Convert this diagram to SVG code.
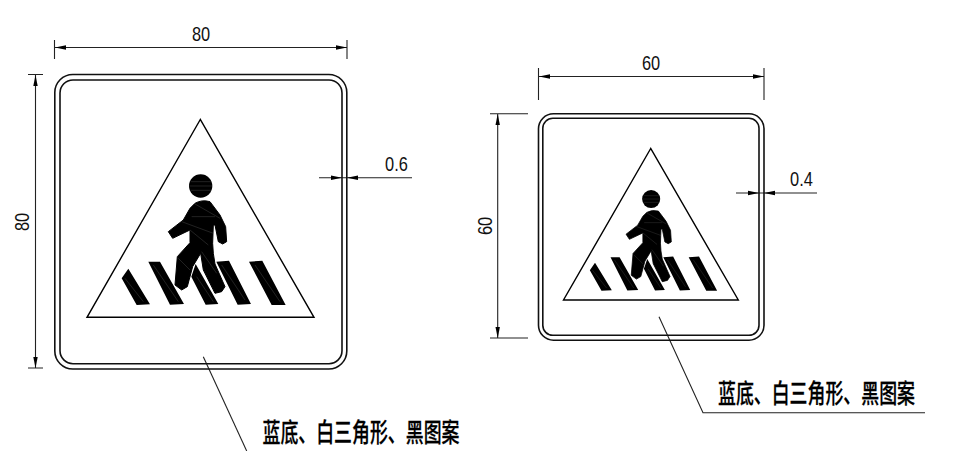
<svg xmlns="http://www.w3.org/2000/svg" width="954" height="451" viewBox="0 0 954 451">
<style>
.l{fill:none;stroke:#000;stroke-width:1.4}
.d{fill:none;stroke:#222;stroke-width:1.1}
.s{fill:none;stroke:#111;stroke-width:1.6}
.a{fill:#000;stroke:none}
.n{font-family:"Liberation Sans",Arial,sans-serif;font-size:20px;fill:#111;text-anchor:middle}
.c{font-family:"Noto Sans CJK SC","Liberation Sans",sans-serif;font-size:26px;font-weight:500;fill:#000;stroke:#000;stroke-width:.25}
.h{fill:none;stroke:#666;stroke-width:1}
.f{fill:#000;stroke:#000;stroke-width:3;stroke-linejoin:round}
</style>
<defs>
<path id="ar" class="a" d="M0 0L11 -2.2V2.2Z"/>
<g id="sign">
<path fill="#000" d="M145 476L210 583L170 585L125 505ZM205 455L240 455L312 582L270 584ZM347 462L415 582L377 584L334 500ZM409 455L447 452L513 582L473 584ZM507 455L547 452L617 585L575 585Z"/>
<circle cx="362" cy="228" r="35" fill="#000"/>
<path class="f" d="M345 280Q365 268 390 275L420 315L437 350L440 395L428 402L415 395L405 345L400 345L398 400L400 430L405 462L435 530L425 545L405 550L370 480L362 430L338 470L322 530L305 540L285 525L292 440L330 398L330 360L278 385L265 365L310 330L330 295Z"/>
<path class="h" d="M332 215H392M328 228H396M332 241H392M345 282L420 325M305 335L400 370M335 320H405M330 360L385 405M295 445L330 480M365 425L410 490M350 500L400 575M135 505L190 575M220 465L295 575M425 465L495 570M525 465L600 575"/>
</g>
</defs>

<g id="connectors">
<path class="d" d="M54.5 40V59M347 40V59M54.5 47.5H347"/>
<use href="#ar" x="55" y="47.5"/>
<use href="#ar" transform="translate(347 47.5) rotate(180)"/>
<path class="d" d="M28 74.5H43M28 368H43M35.5 74.5V368"/>
<use href="#ar" transform="translate(35.5 75) rotate(90)"/>
<use href="#ar" transform="translate(35.5 368) rotate(-90)"/>
<path class="d" d="M319 177.7H412"/>
<use href="#ar" transform="translate(342 177.7) rotate(180)"/>
<use href="#ar" x="347" y="177.7"/>
<path class="d" d="M203.3 356.7L246.7 451"/>

<path class="d" d="M538.5 68V100M764 68V100M538.5 76.5H764"/>
<use href="#ar" x="539" y="76.5"/>
<use href="#ar" transform="translate(764 76.5) rotate(180)"/>
<path class="d" d="M490 113.7H528M490 338H528M497.7 113.7V338"/>
<use href="#ar" transform="translate(497.7 114) rotate(90)"/>
<use href="#ar" transform="translate(497.7 338) rotate(-90)"/>
<path class="d" d="M736 193H817"/>
<use href="#ar" transform="translate(759 193) rotate(180)"/>
<use href="#ar" x="764" y="193"/>
<path class="d" d="M659 316.7L703 412.7H925"/>
</g>

<g id="sign-80">
<rect class="s" x="54.8" y="74.5" width="292" height="294.5" rx="18"/>
<rect class="s" x="60" y="80" width="282" height="283.7" rx="13"/>
<path class="l" d="M200.3 119.5L87 317.3H314Z"/>
<use href="#sign" transform="translate(80 110) scale(0.3333)"/>
</g>
<g id="sign-60">
<rect class="s" x="538.5" y="113.8" width="225.5" height="226.4" rx="15"/>
<rect class="s" x="542.8" y="118.3" width="216.2" height="217" rx="10"/>
<path class="l" d="M650.7 148.5L563.5 300H738.3Z"/>
<use href="#sign" transform="translate(557.5 140.5) scale(0.2587 0.2567)"/>
</g>

<g id="labels">
<text class="n" transform="translate(201 41) scale(.82 1)">80</text>
<text class="n" transform="translate(651 70) scale(.82 1)">60</text>
<text class="n" transform="translate(29 222) rotate(-90) scale(.82 1)">80</text>
<text class="n" transform="translate(492 226) rotate(-90) scale(.82 1)">60</text>
<text class="n" transform="translate(396.5 171) scale(.82 1)">0.6</text>
<text class="n" transform="translate(801.5 186) scale(.82 1)">0.4</text>
<text class="c" transform="translate(262.5 442) scale(.689 1)">蓝底、白三角形、黑图案</text>
<text class="c" transform="translate(718 402.5) scale(.689 1)">蓝底、白三角形、黑图案</text>
</g>
</svg>
